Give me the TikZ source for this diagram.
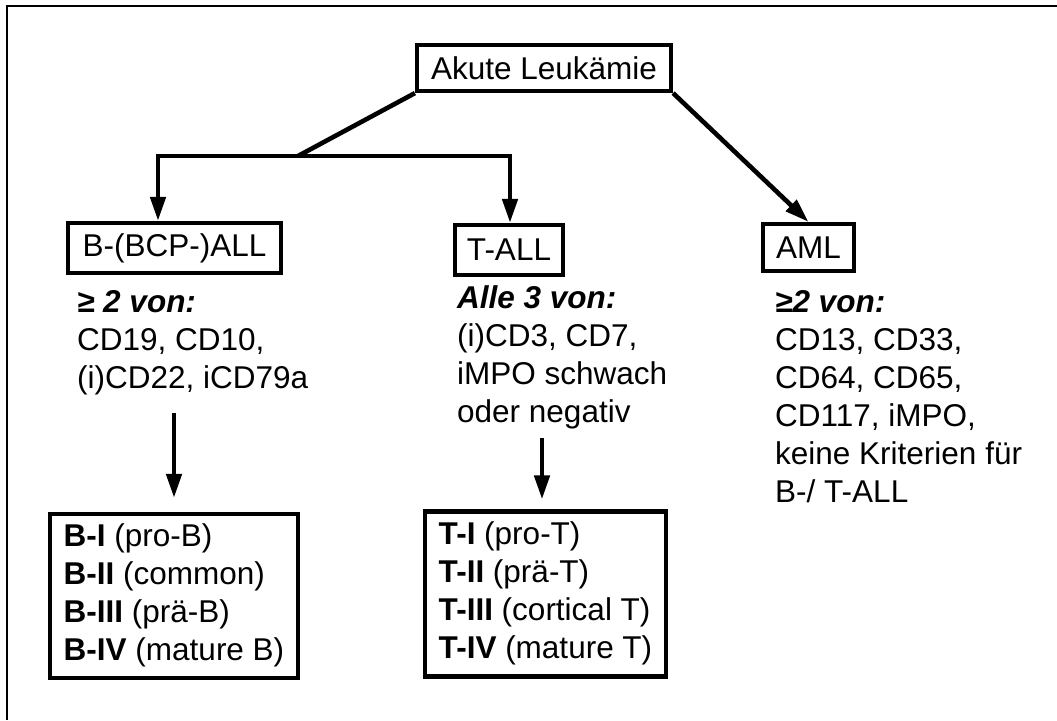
\documentclass[tikz,border=0pt]{standalone}
\usepackage{fontspec}
\setmainfont{Liberation Sans}
\usetikzlibrary{arrows.meta}
\tikzset{
  box/.style={draw, line width=4.2pt, inner sep=0pt, font=\fontsize{31.5}{38}\selectfont},
  conn/.style={line width=4.6pt, line join=miter},
  arr/.style={conn, -{Triangle[width=15pt,length=24pt]}},
  crit/.style={anchor=base west, inner sep=0pt, font=\fontsize{31.5}{38}\selectfont},
}
\begin{document}
\begin{tikzpicture}[x=1pt,y=-1pt]
\useasboundingbox (0,0) rectangle (1057,720);
% partial outer frame
\draw[line width=2.2pt] (7,720) -- (7,6) -- (1057,6);

% top box
\node[box, minimum width=254pt, minimum height=46pt] (top) at (544,68) {Akute Leukämie};

% second level boxes
\node[box, minimum width=213pt, minimum height=50pt] (ball) at (174.5,248) {B-(BCP-)ALL};
\node[box, minimum width=108pt, minimum height=50pt] (tall) at (509,250) {T-ALL};
\node[box, minimum width=91pt, minimum height=47pt] (aml) at (808.5,247.5) {AML};

% criteria texts
\node[crit] (bcrit) at (77,312) {\begin{tabular}[t]{@{}l@{}}\textbf{\textit{≥ 2 von:}}\\CD19, CD10,\\(i)CD22, iCD79a\end{tabular}};
\node[crit] (tcrit) at (457,308) {\begin{tabular}[t]{@{}l@{}}\textbf{\textit{Alle 3 von:}}\\(i)CD3, CD7,\\iMPO schwach\\oder negativ\end{tabular}};
\node[crit] (acrit) at (775,312) {\begin{tabular}[t]{@{}l@{}}\textbf{\textit{≥2 von:}}\\CD13, CD33,\\CD64, CD65,\\CD117, iMPO,\\keine Kriterien für\\B-/ T-ALL\end{tabular}};

% subtype boxes
\node[box, minimum width=248pt, minimum height=164pt] (bsub) at (174,596) {\begin{tabular}{@{}l@{}}\textbf{B-I} (pro-B)\\\textbf{B-II} (common)\\\textbf{B-III} (prä-B)\\\textbf{B-IV} (mature B)\end{tabular}};
\node[box, minimum width=241pt, minimum height=165pt] (tsub) at (545.5,594) {\begin{tabular}{@{}l@{}}\textbf{T-I} (pro-T)\\\textbf{T-II} (prä-T)\\\textbf{T-III} (cortical T)\\\textbf{T-IV} (mature T)\end{tabular}};

% connectors
\coordinate (j) at (298,156);
\coordinate (bl) at (158,156);
\coordinate (tr) at (510,156);
\draw[conn] (top.south west) -- (j);
\draw[conn, line cap=rect] (bl) -- (tr);
\draw[arr] (bl) -- (bl |- ball.north);
\draw[arr] (tr) -- (tr |- tall.north);
\draw[arr] (top.south east) -- (aml.north);

\coordinate (ba) at (174,413);
\coordinate (ta) at (542,438);
\draw[arr, shorten >=14pt] (ba) -- (ba |- bsub.north);
\draw[arr, shorten >=10pt] (ta) -- (ta |- tsub.north);
\end{tikzpicture}
\end{document}
